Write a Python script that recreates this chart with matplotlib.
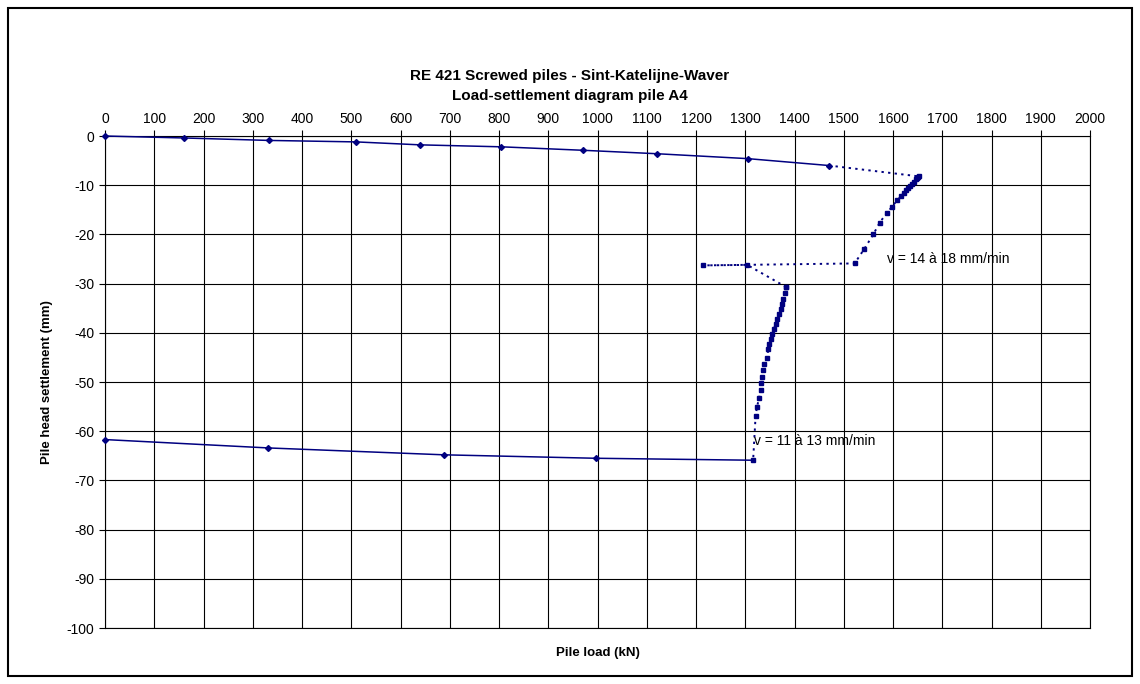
import matplotlib
matplotlib.use('Agg')
import matplotlib.pyplot as plt
from matplotlib.patches import Rectangle

plt.rcParams['font.family'] = ['Liberation Sans', 'DejaVu Sans']
plt.rcParams['axes.unicode_minus'] = False

# loading stage (solid, diamonds)
load_up = [0, 160, 333, 510, 640, 805, 970, 1120, 1305, 1470]
sett_up = [0, -0.4, -0.9, -1.2, -1.8, -2.2, -2.9, -3.6, -4.6, -6.0]

# constant rate stage 1 (dotted, squares)
load_v1 = [1470, 1652, 1650, 1648, 1646, 1643, 1639, 1635, 1631, 1626, 1622, 1617,
           1608, 1598, 1587, 1573, 1560, 1542, 1522, 1215, 1304, 1383]
sett_v1 = [-6.0, -8.2, -8.4, -8.6, -8.8, -9.3, -9.7, -10.1, -10.6, -11.0, -11.5, -12.2,
           -13.1, -14.4, -15.7, -17.6, -20.0, -22.9, -25.9, -26.3, -26.2, -30.7]

# constant rate stage 2 (dotted, squares)
load_v2 = [1383, 1380, 1377, 1374, 1372, 1368, 1365, 1362, 1358, 1355, 1352, 1349,
           1347, 1344, 1339, 1337, 1335, 1332, 1331, 1328, 1324, 1321, 1316]
sett_v2 = [-30.7, -32.0, -33.1, -34.1, -35.1, -36.1, -37.1, -38.2, -39.2, -40.2, -41.2, -42.2,
           -43.3, -45.1, -46.3, -47.6, -48.9, -50.3, -51.6, -53.3, -55.0, -56.9, -65.9]

# unloading (solid, diamonds)
load_dn = [1316, 996, 688, 331, 0]
sett_dn = [-65.9, -65.5, -64.8, -63.4, -61.7]

navy = '#000080'
dot = (0, (1.2, 2.2))

fig = plt.figure(figsize=(11.4, 6.84), dpi=100)
ax = fig.add_axes([105/1140, 1 - 628/684, 985/1140, 492/684])

ax.plot(load_v1, sett_v1, color=navy, lw=1.4, ls=dot, marker='s', ms=3.5,
        markevery=list(range(1, len(load_v1))), zorder=3, clip_on=False)
ax.plot(load_v2, sett_v2, color=navy, lw=1.4, ls=dot, marker='s', ms=3.5, zorder=3, clip_on=False)
ax.plot(load_up, sett_up, color=navy, lw=1.1, marker='D', ms=3, zorder=4, clip_on=False)
ax.plot(load_dn, sett_dn, color=navy, lw=1.1, marker='D', ms=3,
        markevery=list(range(1, len(load_dn))), zorder=4, clip_on=False)

ax.text(1587, -25, 'v = 14 à 18 mm/min', fontsize=10, va='center', ha='left')
ax.text(1318, -62, 'v = 11 à 13 mm/min', fontsize=10, va='center', ha='left')

ax.set_xlim(0, 2000)
ax.set_ylim(-100, 0)
ax.set_xticks(range(0, 2001, 100))
ax.set_yticks(range(-100, 1, 10))
ax.xaxis.tick_top()
ax.tick_params(axis='both', labelsize=10, length=4, width=0.8, color='black')
ax.grid(True, color='black', lw=0.8)
for s in ax.spines.values():
    s.set_color('black')
    s.set_linewidth(0.8)

ax.set_xlabel('Pile load (kN)', fontsize=9.5, fontweight='bold', labelpad=14)
ax.set_ylabel('Pile head settlement (mm)', fontsize=9.5, fontweight='bold', labelpad=10)

fig.text(0.5, 1 - 76/684, 'RE 421 Screwed piles - Sint-Katelijne-Waver', fontsize=11,
         fontweight='bold', ha='center', va='center')
fig.text(0.5, 1 - 96/684, 'Load-settlement diagram pile A4', fontsize=11,
         fontweight='bold', ha='center', va='center')

fig.patches.append(Rectangle((8/1140, 8/684), 1124/1140, 668/684, transform=fig.transFigure,
                             fill=False, edgecolor='black', lw=1.5))

fig.savefig('out.png', dpi=100)
